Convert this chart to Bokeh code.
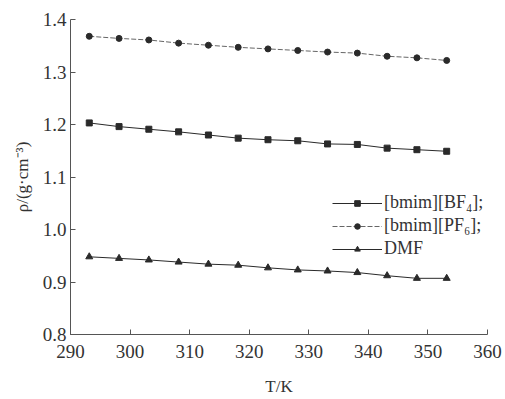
from bokeh.plotting import figure
from bokeh.models import Range1d, Legend, LegendItem, CustomJSTickFormatter
from bokeh.embed import file_html
from bokeh.resources import INLINE

T = [293.15, 298.15, 303.15, 308.15, 313.15, 318.15, 323.15, 328.15, 333.15, 338.15, 343.15, 348.15, 353.15]
rho_bf4 = [1.203, 1.196, 1.191, 1.186, 1.180, 1.174, 1.171, 1.169, 1.163, 1.162, 1.155, 1.152, 1.149]
rho_pf6 = [1.368, 1.364, 1.361, 1.355, 1.351, 1.347, 1.344, 1.341, 1.338, 1.336, 1.330, 1.327, 1.322]
rho_dmf = [0.948, 0.945, 0.942, 0.938, 0.934, 0.932, 0.927, 0.923, 0.921, 0.918, 0.912, 0.907, 0.907]
labels = ["[bmim][BF\u2084];", "[bmim][PF\u2086];", "DMF"]
x_ticks = [290, 300, 310, 320, 330, 340, 350, 360]
y_ticks = [0.8, 0.9, 1.0, 1.1, 1.2, 1.3, 1.4]

FONT = "Liberation Serif"
INK = "#2a2a2a"

p = figure(width=505, height=399, output_backend="svg", toolbar_location=None,
           x_range=Range1d(290, 360), y_range=Range1d(0.8, 1.4),
           min_border_left=70, min_border_right=18, min_border_top=19, min_border_bottom=65)
p.outline_line_color = None
p.xgrid.visible = False
p.ygrid.visible = False
p.background_fill_color = "white"

for ax in (p.xaxis[0], p.yaxis[0]):
    ax.major_tick_in = 5
    ax.major_tick_out = 0
    ax.minor_tick_line_color = None
    ax.axis_line_color = "#555555"
    ax.major_tick_line_color = "#555555"
    ax.major_label_text_font = FONT
    ax.major_label_text_font_size = "19px"
    ax.major_label_text_color = "#333333"
    ax.axis_label_text_font = FONT
    ax.axis_label_text_font_size = "17px"
    ax.axis_label_text_font_style = "normal"
    ax.axis_label_text_color = "#333333"

p.xaxis.ticker = x_ticks
p.yaxis.ticker = y_ticks
p.yaxis.formatter = CustomJSTickFormatter(code="return tick.toFixed(1);")
p.xaxis.axis_label = "T/K"
p.yaxis.axis_label = "\u03c1/(g\u00b7cm\u207b\u00b3)"
p.xaxis.axis_label_standoff = 16
p.yaxis.axis_label_standoff = 8
p.xaxis.major_label_standoff = 10
p.yaxis.major_label_standoff = 4

l1 = p.line(T, rho_bf4, line_color=INK, line_width=1)
m1 = p.scatter(T, rho_bf4, marker="square", size=6, color=INK)
l2 = p.line(T, rho_pf6, line_color="#666666", line_width=1, line_dash="5 2")
m2 = p.scatter(T, rho_pf6, marker="circle", size=6, color=INK)
l3 = p.line(T, rho_dmf, line_color=INK, line_width=1)
m3 = p.scatter(T, rho_dmf, marker="triangle", size=7, color=INK)

legend = Legend(items=[LegendItem(label=labels[0], renderers=[l1, m1]),
                       LegendItem(label=labels[1], renderers=[l2, m2]),
                       LegendItem(label=labels[2], renderers=[l3, m3])],
                location=(262, 74), border_line_color=None, background_fill_alpha=0,
                label_text_font=FONT, label_text_font_size="18px", label_text_color="#333333",
                glyph_width=50, glyph_height=14, label_height=23, spacing=0, padding=0, margin=0,
                label_standoff=2)
p.add_layout(legend)

open("out.html", "w").write(file_html(p, INLINE))
